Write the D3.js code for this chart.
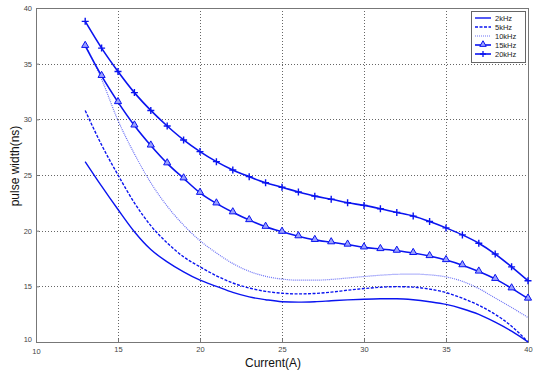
<!DOCTYPE html>
<html>
<head>
<meta charset="utf-8">
<script src="https://cdn.jsdelivr.net/npm/d3@7"></script>
<style>
  body { margin: 0; background: #fff; }
  svg { display: block; font-family: "Liberation Sans", Arial, sans-serif; }
</style>
</head>
<body>
<div id="chart"></div>
<script>
// current (A), one value per marker position
var current = [13, 14, 15, 16, 17, 18, 19, 20, 21, 22, 23, 24, 25, 26, 27, 28, 29, 30, 31, 32, 33, 34, 35, 36, 37, 38, 39, 40];

var khz2 = [26.2, 24.0, 21.9, 19.9, 18.3, 17.2, 16.3, 15.55, 15.0, 14.45, 14.05, 13.8, 13.62, 13.58, 13.62, 13.7, 13.78, 13.84, 13.88, 13.89, 13.8, 13.62, 13.38, 12.99, 12.48, 11.78, 10.97, 10.0];
var khz5 = [30.8, 27.7, 25.0, 22.5, 20.45, 18.9, 17.65, 16.75, 15.95, 15.3, 14.85, 14.55, 14.38, 14.32, 14.36, 14.48, 14.65, 14.8, 14.92, 14.97, 14.93, 14.75, 14.44, 13.93, 13.3, 12.48, 11.42, 10.0];
var khz10 = [36.7, 33.6, 29.9, 26.9, 24.3, 22.2, 20.5, 19.1, 18.0, 17.05, 16.35, 15.9, 15.65, 15.55, 15.55, 15.62, 15.75, 15.88, 16.0, 16.08, 16.1, 16.03, 15.85, 15.45, 14.8, 13.95, 13.1, 12.2];
var khz15 = [36.6, 33.9, 31.55, 29.45, 27.65, 26.05, 24.7, 23.4, 22.45, 21.65, 20.95, 20.35, 19.9, 19.5, 19.17, 18.96, 18.75, 18.5, 18.35, 18.2, 18.0, 17.72, 17.36, 16.9, 16.33, 15.67, 14.82, 13.9];
var khz20 = [38.8, 36.4, 34.3, 32.4, 30.8, 29.4, 28.15, 27.1, 26.2, 25.45, 24.85, 24.3, 23.9, 23.47, 23.1, 22.82, 22.51, 22.27, 21.97, 21.64, 21.31, 20.82, 20.25, 19.62, 18.87, 17.9, 16.75, 15.5];

var xTicks = [10, 15, 20, 25, 30, 35, 40];
var yTicks = [10, 15, 20, 25, 30, 35, 40];

var seriesNames = ['2kHz', '5kHz', '10kHz', '15kHz', '20kHz'];

var width = 538, height = 374;
var margin = { top: 8, right: 10, bottom: 32, left: 36 };

var svg = d3.select('#chart').append('svg')
    .attr('width', width)
    .attr('height', height);

var x = d3.scaleLinear().domain([10, 40]).range([margin.left, width - margin.right]);
var y = d3.scaleLinear().domain([10, 40]).range([height - margin.bottom, margin.top]);

var blue = '#0a14f0';

// grid
var grid = svg.append('g').attr('stroke', '#666').attr('stroke-width', 1).attr('stroke-dasharray', '1,2');
grid.selectAll('.gx').data(xTicks.slice(1, -1)).enter().append('line')
    .attr('x1', d => Math.round(x(d)) + 0.5).attr('x2', d => Math.round(x(d)) + 0.5)
    .attr('y1', y(40)).attr('y2', y(10));
grid.selectAll('.gy').data(yTicks.slice(1, -1)).enter().append('line')
    .attr('y1', d => Math.round(y(d)) + 0.5).attr('y2', d => Math.round(y(d)) + 0.5)
    .attr('x1', x(10)).attr('x2', x(40));

// frame
svg.append('rect')
    .attr('x', x(10) + 0.5).attr('y', y(40) + 0.5)
    .attr('width', x(40) - x(10)).attr('height', y(10) - y(40))
    .attr('fill', 'none').attr('stroke', '#777').attr('stroke-width', 1);

// axes
var xAxis = svg.append('g')
    .attr('transform', 'translate(0,' + y(10) + ')')
    .call(d3.axisBottom(x).tickValues(xTicks).tickSize(-3).tickPadding(5).tickFormat(d3.format('d')));
var yAxis = svg.append('g')
    .attr('transform', 'translate(' + x(10) + ',0)')
    .call(d3.axisLeft(y).tickValues(yTicks).tickSize(-3).tickPadding(4).tickFormat(d3.format('d')));
[xAxis, yAxis].forEach(function (a) {
    a.select('.domain').remove();
    a.selectAll('.tick line').attr('stroke', '#777');
    a.selectAll('.tick text').attr('fill', '#444').style('font-size', '7.5px');
});
// matlab style corner labels
xAxis.selectAll('.tick text').filter(d => d === 10).attr('dy', '0.9em');
yAxis.selectAll('.tick text').filter(d => d === 10).attr('dy', '-0.1em');

// labels
svg.append('text')
    .attr('x', 273).attr('y', 367)
    .attr('text-anchor', 'middle')
    .style('font-size', '12px').attr('fill', '#111')
    .text('Current(A)');
svg.append('text')
    .attr('transform', 'translate(19,166) rotate(-90)')
    .attr('text-anchor', 'middle')
    .style('font-size', '12px').attr('fill', '#111')
    .text('pulse width(ns)');

var line = d3.line()
    .x(d => x(d[0]))
    .y(d => y(d[1]))
    .curve(d3.curveMonotoneX);

function pairs(vals) {
    return current.map((c, i) => [c, vals[i]]);
}

var styles = {
    '2kHz': { data: khz2, dash: null, w: 1.4, op: 1 },
    '5kHz': { data: khz5, dash: '3,1.5', w: 1.4, op: 1 },
    '10kHz': { data: khz10, dash: '1,1', w: 1.2, op: 0.6 },
    '15kHz': { data: khz15, dash: null, w: 1.6, op: 1, marker: 'tri' },
    '20kHz': { data: khz20, dash: null, w: 1.6, op: 1, marker: 'plus' }
};

var plot = svg.append('g');
seriesNames.forEach(function (name) {
    var s = styles[name];
    plot.append('path')
        .datum(pairs(s.data))
        .attr('d', line)
        .attr('fill', 'none')
        .attr('stroke', blue)
        .attr('stroke-width', s.w)
        .attr('stroke-opacity', s.op)
        .attr('stroke-dasharray', s.dash);

    if (s.marker === 'tri') {
        plot.selectAll('.tri').data(pairs(s.data)).enter().append('path')
            .attr('d', d3.symbol(d3.symbolTriangle, 22))
            .attr('transform', d => 'translate(' + x(d[0]) + ',' + (y(d[1]) - 0.5) + ')')
            .attr('fill', '#9aa0ff').attr('stroke', blue).attr('stroke-width', 1);
    }
    if (s.marker === 'plus') {
        plot.selectAll('.plus').data(pairs(s.data)).enter().append('path')
            .attr('d', 'M-3.5,0H3.5M0,-3.5V3.5')
            .attr('transform', d => 'translate(' + x(d[0]) + ',' + y(d[1]) + ')')
            .attr('fill', 'none').attr('stroke', blue).attr('stroke-width', 1.4);
    }
});

// legend
var lg = svg.append('g').attr('transform', 'translate(471,11)');
lg.append('rect')
    .attr('x', 0.5).attr('y', 0.5).attr('width', 54).attr('height', 51)
    .attr('fill', '#fff').attr('stroke', '#666').attr('stroke-width', 1);
seriesNames.forEach(function (name, i) {
    var s = styles[name];
    var ly = 7 + i * 9;
    lg.append('line')
        .attr('x1', 4).attr('x2', 20).attr('y1', ly).attr('y2', ly)
        .attr('stroke', blue).attr('stroke-width', s.w)
        .attr('stroke-opacity', s.op)
        .attr('stroke-dasharray', s.dash);
    if (s.marker === 'tri') {
        lg.append('path').attr('d', d3.symbol(d3.symbolTriangle, 18))
            .attr('transform', 'translate(12,' + (ly - 0.5) + ')')
            .attr('fill', '#9aa0ff').attr('stroke', blue).attr('stroke-width', 1);
    }
    if (s.marker === 'plus') {
        lg.append('path').attr('d', 'M-3,0H3M0,-3V3')
            .attr('transform', 'translate(12,' + ly + ')')
            .attr('stroke', blue).attr('stroke-width', 1.3);
    }
    lg.append('text')
        .attr('x', 24).attr('y', ly).attr('dy', '0.35em')
        .style('font-size', '7.5px').attr('fill', '#222')
        .text(name);
});
</script>
</body>
</html>
